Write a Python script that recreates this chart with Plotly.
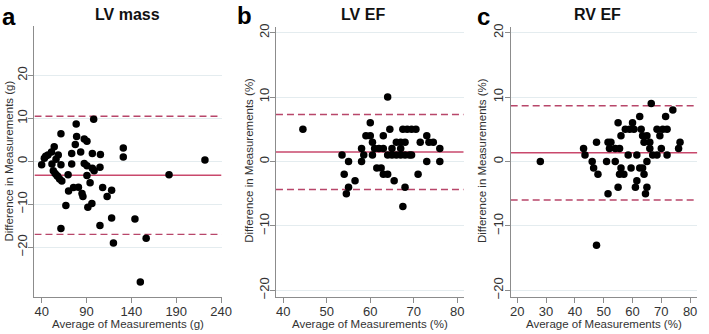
import plotly.graph_objects as go

# ---------------- data ----------------
lv_mass_avg = [40, 43, 44.5, 47, 51, 51.5, 54, 56, 58.5, 61.5, 61.5, 53, 55, 57, 58, 60, 62.5,
               69.5, 73.5, 73.5, 77.5, 78.5, 79, 83.5, 87.5, 90.5, 87.5, 90.5, 90.5, 96.5, 96.5,
               98.5, 98, 105.5, 105, 94, 70, 75.5, 81, 85, 86, 96, 91.5, 67, 108, 113, 118, 118,
               105, 61.5, 120, 131, 131, 144, 156.5, 150, 182, 222]
lv_mass_diff = [-0.8, 0.7, 1.2, 1.5, 2.2, -0.6, 3.4, 0.5, 1.5, -0.8, 6.4, -2.2, -2.8, -3.3, -3.5,
                -4.1, -4.6, -3.1, 1.8, -0.6, 3.9, 8.7, 5.8, 2.2, 5.2, 4.7, -0.5, -1.0, -3.3, 1.8,
                -1.6, -2.2, 9.8, 1.6, -1.4, -5.0, -6.9, -6.1, -6.0, -7.5, -8.2, -9.8, -10.7, -10.3,
                -6.1, -8.2, -6.7, -13.2, -14.9, -15.6, -19.0, 3.1, 1.0, -13.4, -17.9, -28.1, -3.1, 0.3]

lv_ef_avg = [44.5, 53.5, 54, 54.5, 55, 55, 56.5, 58, 58, 58.5, 59, 60, 60, 60.5, 60.5, 61, 62, 63,
             63, 61.5, 62.5, 63, 64, 64, 64.5, 65, 67, 64, 65, 66, 67, 68, 69, 69.5, 66, 67, 68,
             71.5, 73.5, 74.5, 67.5, 68.5, 69.5, 70.5, 73, 76, 73, 76, 65.5, 68, 71, 67.5]
lv_ef_diff = [5, 1, -2, -5, 0, -4, -3, 2, 0, 1, 4, 4, 6, 3, 1, 2, 2, 2,
              4, -1, -1, -2, -2, 10, 5, 2, 2, 1, 1, 1, 1, 1, 1, 1, 3, 3, 3,
              3, 3, 3, 5, 5, 5, 5, 4, 2, 0, 0, -3, -4, -2, -7]

rv_ef_avg = [28, 43, 43.5, 46, 46.5, 47.5, 48, 47.5, 51, 51.5, 52.5, 52, 54, 55.5, 54, 51.5, 55,
             55, 56, 56, 55.5, 57, 57.5, 59, 60.5, 63, 60, 62.5, 58.5, 61.5, 59.5, 62.5, 63.5, 64,
             61.5, 61, 64.5, 65, 65, 63.5, 65, 64, 66, 66, 66.5, 67, 68.5, 68.5, 70.5, 72, 69.5,
             70, 71.5, 72, 74, 76, 76.5]
rv_ef_diff = [0, 2, 1, 0, -1, 3, -2, -13, 0, 3, 3, 2, 2, 2, 0, -5, -4,
              6, 4, -1, -2, -2, 5, 5, 5, 5, 6, 7, 1, 1, -1, -1, -1, -2,
              -3, -4, -5, -4, 0, 4, 4, 3, 3, 2, 9, 1, 1, 5, 5, 5, 4,
              2, 7, 1, 8, 2, 3]

panel_letters = ["a", "b", "c"]
panel_titles = ["LV mass", "LV EF", "RV EF"]
x_titles = ["Average of Measurements (g)", "Average of Measurements (%)", "Average of Measurements (%)"]
y_titles = ["Difference in Measurements (g)", "Difference in Measurements (%)", "Difference in Measurements (%)"]
mean_diff = [-3.25, 1.47, 1.35]
upper_loa = [10.5, 7.3, 8.66]
lower_loa = [-17.0, -4.35, -5.97]
x_ticks = [[40, 90, 140, 190, 240], [40, 50, 60, 70, 80], [20, 30, 40, 50, 60, 70, 80]]
y_ticks = [-20, -10, 0, 10, 20]

# ---------------- layout ----------------
W, H = 709, 334
FONT = "Liberation Sans, Arial, sans-serif"
xs = [lv_mass_avg, lv_ef_avg, rv_ef_avg]
ys = [lv_mass_diff, lv_ef_diff, rv_ef_diff]

# pixel geometry of the plot areas (left, right, top, bottom)
boxes = [(34, 224, 22, 299), (279.3, 470, 24, 299), (517.7, 707.3, 24, 299)]
x_ranges = [[32, 240.5], [38.3, 81.5], [17.7, 82.5]]
y_ranges = [[-31.5, 31.6], [-21, 20.8], [-21, 20.8]]
letter_pos = [(8, 13), (247, 12), (490, 13)]
title_pos = [(129, 11), (368, 11), (606, 11)]
ytitle_x = [8, 252, 488]

fig = go.Figure()
shapes = []
annotations = []

for i in range(3):
    xa = "x" if i == 0 else f"x{i+1}"
    ya = "y" if i == 0 else f"y{i+1}"
    l, r, t, b = boxes[i]
    fig.add_trace(go.Scatter(
        x=xs[i], y=ys[i], mode="markers", xaxis=xa, yaxis=ya,
        marker=dict(color="black", size=7.5, line=dict(width=0)),
        showlegend=False, hoverinfo="skip"))
    axis_common = dict(showline=True, linecolor="#8c8c8c", linewidth=1,
                       ticks="outside", ticklen=5, tickcolor="#8c8c8c",
                       tickfont=dict(family=FONT, size=13, color="#333333"),
                       zeroline=False)
    fig.update_layout(**{
        ("xaxis" if i == 0 else f"xaxis{i+1}"): dict(
            domain=[l / W, r / W], anchor=ya, range=x_ranges[i],
            tickvals=x_ticks[i], showgrid=False, ticklabelstandoff=-2, **axis_common),
        ("yaxis" if i == 0 else f"yaxis{i+1}"): dict(
            domain=[1 - b / H, 1 - t / H], anchor=xa, range=y_ranges[i],
            tickvals=y_ticks, tickangle=-90, showgrid=True, gridcolor="#e4ecef",
            gridwidth=1, ticklabelstandoff=-4, **axis_common),
    })
    x0, x1 = x_ranges[i]
    shapes.append(dict(type="line", xref=xa, yref=ya, x0=x0, x1=x1,
                       y0=mean_diff[i], y1=mean_diff[i], layer="below",
                       line=dict(color="#c9486c", width=1.4)))
    for v in (upper_loa[i], lower_loa[i]):
        shapes.append(dict(type="line", xref=xa, yref=ya, x0=x0, x1=x1, y0=v, y1=v,
                           layer="below",
                           line=dict(color="#b8466a", width=1.4, dash="7px,4px")))
    lx, ly = letter_pos[i]
    annotations.append(dict(text=f"<b>{panel_letters[i]}</b>", x=lx / W, y=1 - ly / H,
                            xref="paper", yref="paper", showarrow=False,
                            xanchor="center", yanchor="middle",
                            font=dict(family=FONT, size=24, color="black")))
    tx, ty = title_pos[i]
    annotations.append(dict(text=f"<b>{panel_titles[i]}</b>", x=tx / W, y=1 - ty / H,
                            xref="paper", yref="paper", showarrow=False,
                            xanchor="center", yanchor="middle",
                            font=dict(family=FONT, size=16, color="#111111")))
    annotations.append(dict(text=x_titles[i], x=((l + r) / 2) / W, y=1 - 327 / H,
                            xref="paper", yref="paper", showarrow=False,
                            xanchor="center", yanchor="middle",
                            font=dict(family=FONT, size=11.5, color="#333333")))
    annotations.append(dict(text=y_titles[i], x=ytitle_x[i] / W, y=1 - 160 / H,
                            xref="paper", yref="paper", showarrow=False, textangle=-90,
                            xanchor="center", yanchor="middle",
                            font=dict(family=FONT, size=11.5, color="#333333")))

fig.update_layout(width=W, height=H, margin=dict(l=0, r=0, t=0, b=0),
                  plot_bgcolor="white", paper_bgcolor="white",
                  shapes=shapes, annotations=annotations)

fig.write_html("out.html", config={"displayModeBar": False},
               post_script="document.body.style.margin='0';document.body.style.padding='0';")
